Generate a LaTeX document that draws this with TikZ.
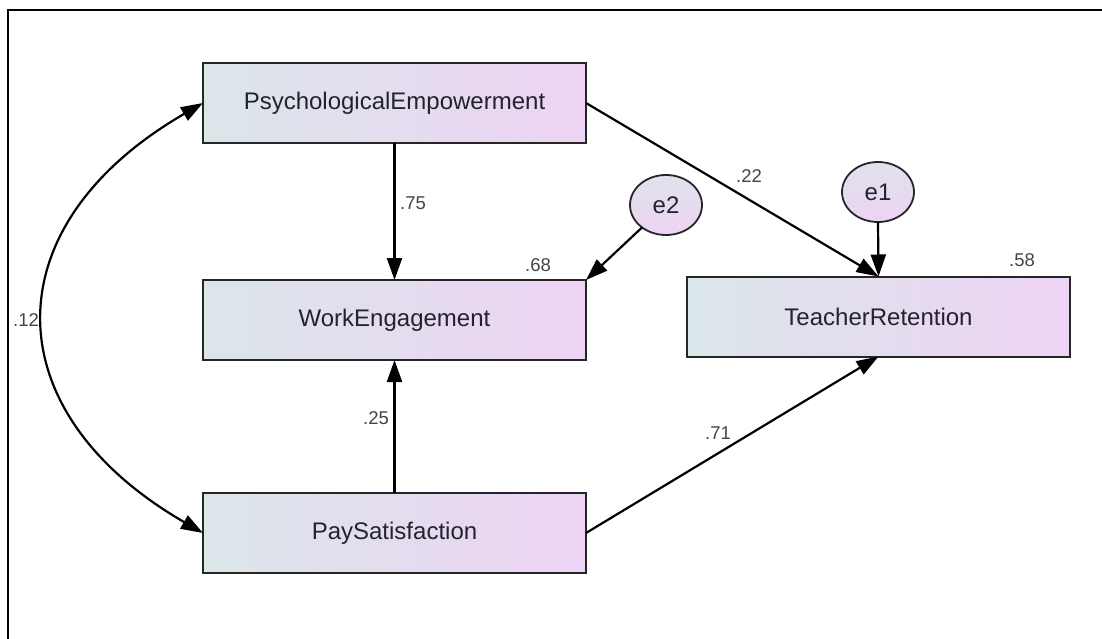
\documentclass[tikz,border=0pt]{standalone}
\usepackage{fontspec}
\setmainfont{Liberation Sans}
\usetikzlibrary{arrows.meta,shapes.geometric}
\definecolor{boxL}{RGB}{219,230,233}
\definecolor{boxR}{RGB}{237,211,244}
\definecolor{txt}{RGB}{35,35,45}
\tikzset{
  varbox/.style={draw=black!85, line width=2pt, left color=boxL, right color=boxR,
    minimum width=383pt, minimum height=80pt, inner sep=0pt, outer sep=0pt,
    font=\fontsize{24}{28}\selectfont, text=txt},
  errell/.style={ellipse, draw=black!85, line width=1.8pt, top color=boxL!80!boxR, bottom color=boxR,
    minimum width=72pt, minimum height=60pt, inner sep=0pt, outer sep=0pt,
    font=\fontsize{24}{28}\selectfont, text=txt},
  coef/.style={font=\fontsize{18.5}{22}\selectfont, text=txt!85, inner sep=0pt},
  sempath/.style={line width=2.2pt, -{Triangle[length=22pt,width=15pt]}},
  covpath/.style={line width=2.2pt, {Triangle[length=22pt,width=15pt]}-{Triangle[length=22pt,width=15pt]}}
}
\begin{document}
\begin{tikzpicture}[x=1pt,y=-1pt]
\useasboundingbox (0,0) rectangle (1102,639);
\draw[line width=2.6pt] (8,639) -- (8,10) -- (1102,10);

\node[varbox] (pe) at (394.5,103) {PsychologicalEmpowerment};
\node[varbox] (we) at (394.5,320) {WorkEngagement};
\node[varbox] (ps) at (394.5,533) {PaySatisfaction};
\node[varbox] (tr) at (878.5,316.5) {TeacherRetention};
\node[errell] (e2) at (666,205) {e2};
\node[errell] (e1) at (878,192) {e1};

\draw[sempath] (pe.south) -- (we.north);
\draw[sempath] (ps.north) -- (we.south);
\draw[sempath] (e2) -- (we.north east);
\draw[sempath] (pe.east) -- (tr.north);
\draw[sempath] (e1.south) -- (tr.north);
\draw[sempath] (ps.east) -- (tr.south);
\draw[covpath] (pe.west) .. controls (-8,225) and (-8,411) .. (ps.west);

\node[coef] (c12) at (26,320) {.12};
\node[coef] (c75) at (413,203) {.75};
\node[coef] (c68) at (538,265) {.68};
\node[coef] (c22) at (749,176) {.22};
\node[coef] (c58) at (1022,260) {.58};
\node[coef] (c25) at (376,418) {.25};
\node[coef] (c71) at (718,433) {.71};
\end{tikzpicture}
\end{document}
